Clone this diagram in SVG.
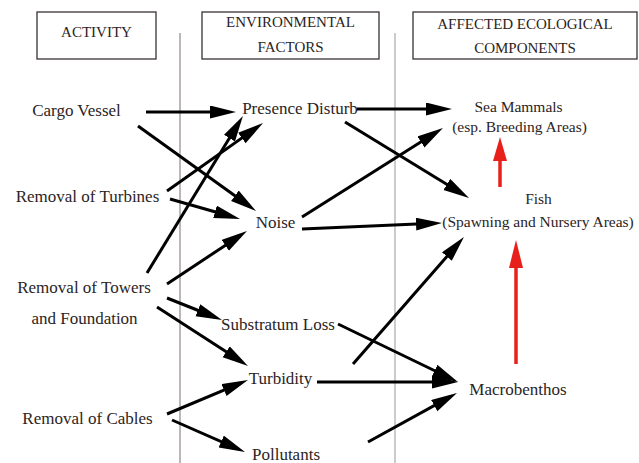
<svg xmlns="http://www.w3.org/2000/svg" width="639" height="463" viewBox="0 0 639 463">
<style>
.hdr{fill:none;stroke:#3a3333;stroke-width:1.3}
.ht{font-family:'Liberation Serif',serif;font-size:15px;fill:#2b2424;text-anchor:middle}
.t{font-family:'Liberation Serif',serif;font-size:17px;fill:#2b2424;text-anchor:middle}
.ts{font-family:'Liberation Serif',serif;font-size:15.5px;fill:#2b2424;text-anchor:middle}
.a{stroke:#000;stroke-width:3;fill:none;marker-end:url(#ah)}
.r{stroke:#e8201c;stroke-width:3.5;fill:none}
</style>
<defs>
<marker id="ah" markerUnits="userSpaceOnUse" markerWidth="28" markerHeight="14" refX="18" refY="6.5" orient="auto">
<path d="M0,0 L26,6.5 L0,13 z" fill="#000"/>
</marker>
</defs>
<rect width="639" height="463" fill="#fff"/>
<line x1="180" y1="33" x2="180" y2="463" stroke="#7a6e6a" stroke-width="1"/>
<line x1="395" y1="33" x2="395" y2="463" stroke="#a8a8a8" stroke-width="1.2"/>

<g id="hdr-activity"><rect class="hdr" x="37" y="12" width="119" height="47"/><text class="ht" x="96.5" y="37">ACTIVITY</text></g>
<g id="hdr-env"><rect class="hdr" x="202" y="12" width="177" height="47"/><text class="ht" x="290.5" y="27">ENVIRONMENTAL</text><text class="ht" x="290.5" y="52">FACTORS</text></g>
<g id="hdr-aff"><rect class="hdr" x="413" y="12" width="224" height="47"/><text class="ht" x="525" y="29">AFFECTED ECOLOGICAL</text><text class="ht" x="525" y="53">COMPONENTS</text></g>

<g id="cargo"><text class="t" x="76.5" y="116">Cargo Vessel</text></g>
<g id="turbines"><text class="t" x="87.5" y="202">Removal of Turbines</text></g>
<g id="towers"><text class="t" x="84" y="293">Removal of Towers</text><text class="t" x="84.5" y="324">and Foundation</text></g>
<g id="cables"><text class="t" x="87.5" y="424">Removal of Cables</text></g>

<g id="presence"><text class="t" x="300" y="114">Presence Disturb</text></g>
<g id="noise"><text class="t" x="275.5" y="228">Noise</text></g>
<g id="substratum"><text class="t" x="278" y="330">Substratum Loss</text></g>
<g id="turbidity"><text class="t" x="280.5" y="384">Turbidity</text></g>
<g id="pollutants"><text class="t" x="286" y="460">Pollutants</text></g>

<g id="mammals"><text class="ts" x="518.5" y="112">Sea Mammals</text><text class="ts" x="519.5" y="132">(esp. Breeding Areas)</text></g>
<g id="fish"><text class="ts" x="538.5" y="204">Fish</text><text class="ts" x="538" y="227">(Spawning and Nursery Areas)</text></g>
<g id="macro"><text class="t" x="518" y="395">Macrobenthos</text></g>

<g id="connectors">
<line class="a" x1="146" y1="112" x2="228" y2="112"/>
<line class="a" x1="138" y1="126" x2="249.5" y2="206.3"/>
<line class="a" x1="167" y1="191" x2="256.5" y2="127.6"/>
<line class="a" x1="170" y1="199" x2="232.3" y2="216.8"/>
<line class="a" x1="147" y1="273" x2="238.8" y2="122.8"/>
<line class="a" x1="167" y1="284" x2="240.3" y2="235.4"/>
<line class="a" x1="167" y1="298" x2="214.6" y2="317"/>
<line class="a" x1="157" y1="307" x2="241.3" y2="361.6"/>
<line class="a" x1="167" y1="414" x2="240.6" y2="383.1"/>
<line class="a" x1="172" y1="420" x2="237.7" y2="448.8"/>
<line class="a" x1="357" y1="109" x2="444" y2="109"/>
<line class="a" x1="345" y1="122" x2="462.2" y2="193.8"/>
<line class="a" x1="302" y1="217" x2="436.2" y2="132.3"/>
<line class="a" x1="302" y1="229" x2="434" y2="223.3"/>
<line class="a" x1="353" y1="364" x2="458.7" y2="243"/>
<line class="a" x1="338" y1="324" x2="450.8" y2="378.5"/>
<line class="a" x1="317" y1="382" x2="450" y2="382"/>
<line class="a" x1="368" y1="442" x2="450" y2="396.9"/>
<line class="r" x1="500" y1="187" x2="500" y2="158"/>
<polygon points="500,137 493,161 507,161" fill="#e8201c"/>
<line class="r" x1="516" y1="364" x2="516" y2="264"/>
<polygon points="516,240 509,268 523,268" fill="#e8201c"/>
</g>
</svg>
